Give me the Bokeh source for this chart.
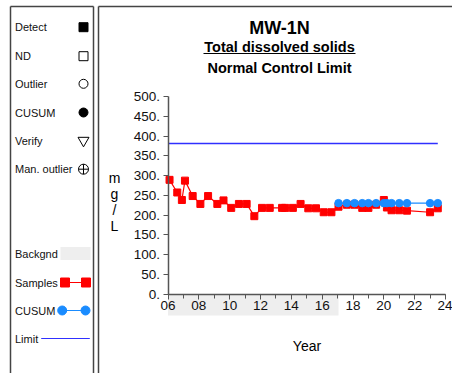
from bokeh.plotting import figure
from bokeh.models import Range1d, FixedTicker, PrintfTickFormatter
from bokeh.layouts import row
from bokeh.embed import file_html
from bokeh.resources import INLINE
from bokeh.core.properties import value

# ---------------- data ----------------
sample_years = [2006.1, 2006.6, 2006.9, 2007.1, 2007.6, 2008.1, 2008.6, 2009.2, 2009.6,
                2010.1, 2010.6, 2011.1, 2011.6, 2012.1, 2012.6, 2013.4, 2013.6, 2014.1,
                2014.6, 2015.1, 2015.6, 2016.1, 2016.6, 2017.06, 2017.6, 2018.1, 2018.6,
                2019.0, 2019.5, 2020.0, 2020.2, 2020.5, 2021.0, 2021.5, 2023.0, 2023.5]
sample_values = [289, 257, 238, 287, 248, 228, 248, 228, 237,
                 218, 228, 228, 197, 218, 218, 218, 218, 218,
                 228, 217, 217, 207, 207, 221, 226, 226, 218,
                 218, 226, 238, 219, 212, 212, 211, 207, 217]
cusum_years = [2017.06, 2017.6, 2018.1, 2018.6, 2019.0, 2019.5, 2020.0, 2020.2,
               2020.5, 2021.0, 2021.5, 2023.0, 2023.5]
cusum_values = [230, 230, 230, 230, 230, 230, 230, 230, 230, 230, 230, 230, 230]
limit_value = 381
background_years = [2006, 2017.06]
y_ticks = [0, 50, 100, 150, 200, 250, 300, 350, 400, 450, 500]
x_ticks = [2006, 2008, 2010, 2012, 2014, 2016, 2018, 2020, 2022, 2024]
x_tick_labels = ["06", "08", "10", "12", "14", "16", "18", "20", "22", "24"]
x_minor_ticks = list(range(2006, 2025))
legend_labels = ["Detect", "ND", "Outlier", "CUSUM", "Verify", "Man. outlier",
                 "Backgnd", "Samples", "CUSUM", "Limit"]
title_main = "MW-1N"
title_param = "Total dissolved solids"
title_method = "Normal Control Limit"
y_unit_chars = ["m", "g", "/", "L"]
x_label = "Year"

FONT = value("Liberation Sans")
RED = "#ff0000"
BLUE = "#1a8cff"
LIMIT = "#3030ff"
BORDER = "#444444"

# ---------------- left legend panel ----------------
LW, LH = 96, 373
lp = figure(width=LW, height=LH, x_range=Range1d(0, LW), y_range=Range1d(LH, 0),
            output_backend="svg", toolbar_location=None, x_axis_type=None,
            y_axis_type=None, min_border=0, outline_line_color=None)
lp.grid.visible = False
lp.segment(x0=[10, 10, 93], y0=[LH, 6, 6], x1=[10, 93, 93], y1=[6, 6, LH],
           line_color=BORDER, line_width=1.5)
ly = [26.7, 55.7, 83.3, 112, 140, 168.7, 253, 282, 310, 338]
lp.text(x=[14.5] * len(legend_labels), y=ly, text=legend_labels, text_font=FONT,
        text_font_size=value("11px"), text_baseline="middle", text_color="#111111")
mx = 83
lp.scatter([mx], [ly[0]], marker="square", size=9, fill_color="black", line_color="black")
lp.scatter([mx], [ly[1]], marker="square", size=9, fill_color=None, line_color="black")
lp.scatter([mx], [ly[2]], marker="circle", size=9, fill_color=None, line_color="black")
lp.scatter([mx], [ly[3]], marker="circle", size=9, fill_color="black", line_color="black")
lp.scatter([mx], [ly[4]], marker="inverted_triangle", size=11, fill_color=None, line_color="black")
lp.scatter([mx], [ly[5]], marker="circle_cross", size=10, fill_color=None, line_color="black")
lp.quad(left=[60], right=[90], top=[ly[6] - 6.5], bottom=[ly[6] + 6.5],
        fill_color="#eeeeee", line_color=None)
lp.line([64.5, 85.5], [ly[7], ly[7]], line_color=RED, line_width=1)
lp.scatter([64.5, 85.5], [ly[7], ly[7]], marker="square", size=9, fill_color=RED, line_color=RED)
lp.line([61.7, 85], [ly[8], ly[8]], line_color=BLUE, line_width=1.2)
lp.scatter([61.7, 85], [ly[8], ly[8]], marker="circle", size=9, fill_color=BLUE, line_color=BLUE)
lp.line([40.7, 89.3], [ly[9], ly[9]], line_color=LIMIT, line_width=1.2)

# ---------------- main chart panel ----------------
RW, RH = 356, 373
# pixel placement of the data frame inside this panel
x0_px, x1_px = 71.5, 349.0      # 2006 and 2024
y0_px, y500_px = 293.5, 96.0    # value 0 and value 500
ppy = (x1_px - x0_px) / (x_ticks[-1] - x_ticks[0])
ppv = (y0_px - y500_px) / (y_ticks[-1] - y_ticks[0])
xr = Range1d(x_ticks[0] - x0_px / ppy, x_ticks[-1] + (RW - x1_px) / ppy)
yr = Range1d(y_ticks[0] - (RH - y0_px) / ppv, y_ticks[-1] + y500_px / ppv)

p = figure(width=RW, height=RH, x_range=xr, y_range=yr, output_backend="svg",
           toolbar_location=None, min_border=0, outline_line_color=None)
p.extra_x_ranges["px"] = Range1d(0, RW)
p.extra_y_ranges["px"] = Range1d(RH, 0)
p.grid.visible = False

# background period band beneath the x axis
band_depth = 21.5 / ppv
p.quad(left=[background_years[0]], right=[background_years[1]], top=[0],
       bottom=[-band_depth], fill_color="#eeeeee", line_color=None)

# axes
p.xaxis.fixed_location = 0
p.yaxis.fixed_location = x_ticks[0]
p.xaxis.bounds = (x_ticks[0], x_ticks[-1])
p.yaxis.bounds = (y_ticks[0], y_ticks[-1])
p.xaxis.ticker = FixedTicker(ticks=x_ticks, minor_ticks=x_minor_ticks)
p.xaxis.major_label_overrides = {t: l for t, l in zip(x_ticks, x_tick_labels)}
p.yaxis.ticker = FixedTicker(ticks=y_ticks)
p.yaxis.formatter = PrintfTickFormatter(format="%d.")
for ax in (p.xaxis, p.yaxis):
    ax.axis_line_color = "#555555"
    ax.axis_line_width = 1.5
    ax.major_tick_line_color = "#555555"
    ax.minor_tick_line_color = "#555555"
    ax.major_tick_in = 0
    ax.major_tick_out = 5
    ax.minor_tick_in = 0
    ax.minor_tick_out = 4
    ax.major_label_text_font = "Liberation Sans"
    ax.major_label_text_font_size = "13.5px"
    ax.major_label_text_color = "#111111"
p.yaxis.minor_tick_line_color = None
p.yaxis.major_label_standoff = 3
p.xaxis.major_label_standoff = 2

# limit line
p.line([x_ticks[0], sample_years[-1]], [limit_value, limit_value], line_color=LIMIT, line_width=1.3)
# samples
p.line(sample_years, sample_values, line_color=RED, line_width=1.2)
p.scatter(sample_years, sample_values, marker="square", size=7, fill_color=RED, line_color=RED)
# cusum
p.line(cusum_years, cusum_values, line_color=BLUE, line_width=1.2)
p.scatter(cusum_years, cusum_values, marker="circle", size=7.5, fill_color=BLUE, line_color=BLUE)

# panel border
p.segment(x0=[2, 2], y0=[RH, 6], x1=[2, RW], y1=[6, 6], line_color=BORDER,
          line_width=1.5, x_range_name="px", y_range_name="px")

# titles and labels
cx = 183
p.text(x=[cx], y=[27], text=[title_main], text_font=FONT, text_font_size=value("18px"),
       text_font_style="bold", text_align="center", text_baseline="middle",
       x_range_name="px", y_range_name="px")
p.text(x=[cx, cx], y=[46, 67], text=[title_param, title_method], text_font=FONT,
       text_font_size=value("14.5px"), text_font_style="bold", text_align="center",
       text_baseline="middle", x_range_name="px", y_range_name="px")
p.segment(x0=[107], y0=[53], x1=[259], y1=[53], line_color="black", line_width=1.2,
          x_range_name="px", y_range_name="px")
p.text(x=[18] * len(y_unit_chars), y=[177, 193, 209, 225], text=y_unit_chars, text_font=FONT,
       text_font_size=value("14px"), text_align="center", text_baseline="middle",
       x_range_name="px", y_range_name="px")
p.text(x=[210.5], y=[345], text=[x_label], text_font=FONT, text_font_size=value("14px"),
       text_align="center", text_baseline="middle", x_range_name="px", y_range_name="px")

layout = row(lp, p, spacing=0)
open("out.html", "w").write(file_html(layout, INLINE))
